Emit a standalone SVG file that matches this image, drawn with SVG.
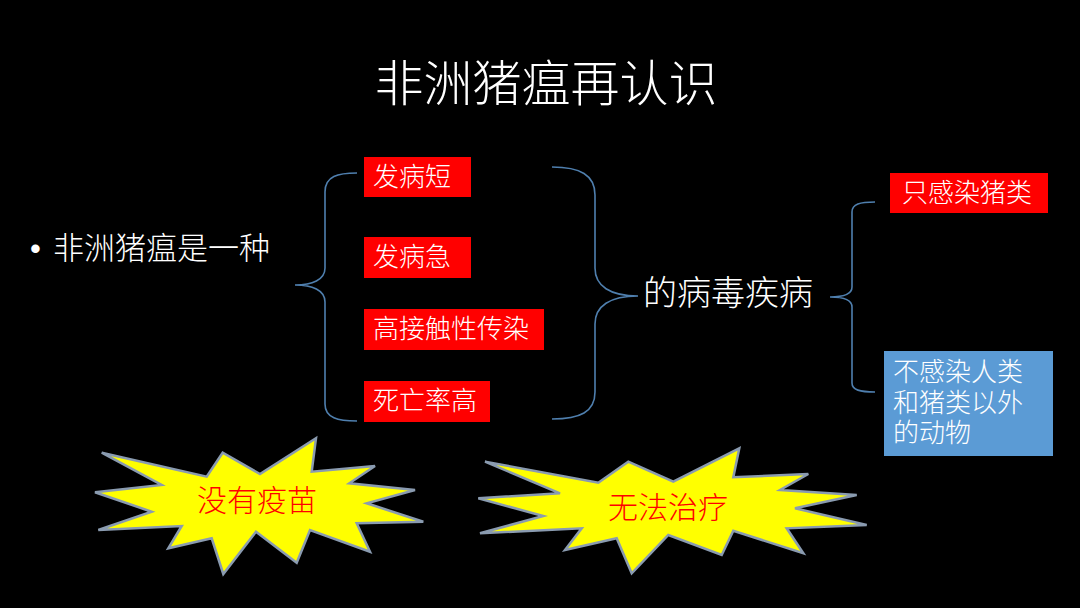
<svg xmlns="http://www.w3.org/2000/svg" width="1080" height="608" viewBox="0 0 1080 608">
<style>
.w{fill:#ffffff;font-family:"Noto Sans CJK SC","Noto Sans",sans-serif;font-weight:300}
.red{fill:#ff0000}
.blue{fill:#5b9bd5}
.brace{fill:none;stroke:#4f7fae;stroke-width:1.6}
.star{fill:#ffff00;stroke:#8a9bb0;stroke-width:2.5;stroke-linejoin:miter}
.st{fill:#ff0000;font-family:"Liberation Serif","Noto Sans CJK SC",serif;font-size:30px;font-weight:300}
.bx{font-size:26px}
</style>
<rect x="0" y="0" width="1080" height="608" fill="#000000"/>
<g id="title"><text class="w" x="546" y="101" font-size="49" text-anchor="middle">非洲猪瘟再认识</text></g>
<g id="intro"><text class="w" font-size="31" y="259"><tspan x="30" font-family="Liberation Sans, sans-serif">•</tspan><tspan x="53">非洲猪瘟是一种</tspan></text></g>
<g id="connectors">
<path class="brace" d="M357,173 C338,173 325,176 325,192 L325,268 C325,280 312,285 295,285 C312,285 325,290 325,302 L325,404 C325,418 338,421 357,421"/>
<path class="brace" d="M552,167 C580,167 595,175 595,195 L595,268 C595,286 610,296 638,296 C610,296 595,306 595,324 L595,392 C595,412 580,419 552,419"/>
<path class="brace" d="M875,202 C860,202 852,204 852,212 L852,287 C852,294 845,297 830,297 C845,297 852,300 852,307 L852,383 C852,390 860,392 875,392"/>
</g>
<g id="n1"><rect class="red" x="364" y="157" width="107" height="40"/><text class="w bx" x="373" y="186">发病短</text></g>
<g id="n2"><rect class="red" x="364" y="237" width="107" height="41"/><text class="w bx" x="373" y="266">发病急</text></g>
<g id="n3"><rect class="red" x="364" y="309" width="180" height="41"/><text class="w bx" x="373" y="338">高接触性传染</text></g>
<g id="n4"><rect class="red" x="364" y="381" width="126" height="41"/><text class="w bx" x="373" y="410">死亡率高</text></g>
<g id="mid"><text class="w" x="643" y="305" font-size="34">的病毒疾病</text></g>
<g id="r1"><rect class="red" x="890" y="173" width="158" height="40"/><text class="w bx" x="902" y="202">只感染猪类</text></g>
<g id="r2"><rect class="blue" x="884" y="351" width="169" height="105"/><text class="w bx"><tspan x="893" y="381">不感染人类</tspan><tspan x="893" y="412">和猪类以外</tspan><tspan x="893" y="442">的动物</tspan></text></g>
<g id="star1">
<polygon class="star" points="101.7,452.7 206.7,476.7 222.7,452.7 260,474 316,438.3 311.7,471.7 375,466 349.3,483.3 415,490 366.7,503.3 423.3,521.7 356.7,523.3 370,551.7 310,530 296.7,562.7 256,531.7 223.3,574 211.7,538.3 168.3,548.3 181.7,526 98.3,530 151.7,511.7 95,492.3 161.7,485"/>
<text class="st" x="197" y="511">没有疫苗</text>
</g>
<g id="star2">
<polygon class="star" points="485,461.7 598.3,482.7 628.3,461.7 673.3,481.7 739.3,448.3 733.3,477.3 808.3,474 780,490 856.7,495 795,508.3 866.7,525 786.7,528.3 803.3,553.3 733.3,530.7 721.7,555 668.3,535 631.7,573.3 616.7,538.3 565,550 581.7,528.3 480,533.3 543.3,516 478.3,498.3 560,493.3"/>
<text class="st" x="608" y="518">无法治疗</text>
</g>
</svg>
